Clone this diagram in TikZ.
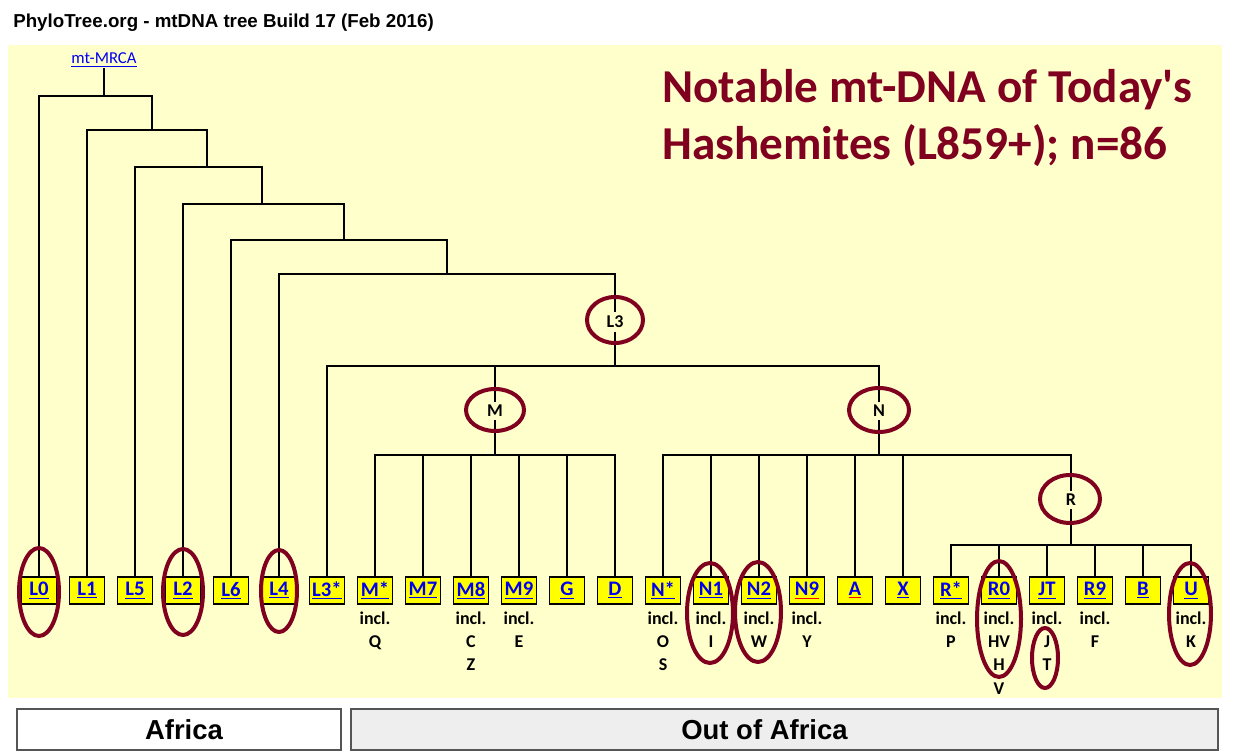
\documentclass[tikz,border=0pt]{standalone}
\usepackage{fontspec}
\setmainfont{Carlito}
\newfontfamily\arialfont{Liberation Sans}
\usetikzlibrary{shapes.geometric}
\definecolor{panel}{HTML}{FFFFCC}
\definecolor{boxyel}{HTML}{FFFF00}
\definecolor{linkblue}{HTML}{0000EE}
\definecolor{hlred}{HTML}{800020}
\definecolor{grayfill}{HTML}{EEEEEE}
\definecolor{bordergray}{HTML}{555555}
\newcommand\leaf[3]{\node[leafbox] (#1) at (#2,590.5) {\underline{#3}};}
\newcommand\leafr[3]{\node[leafbox] (#1) at (#2,590.5) {{\color{red}\underline{\textcolor{linkblue}{#3}}}};}
\newcommand\incl[3]{\node[subtxt] at (#1,#2) {#3};}
\begin{document}
\begin{tikzpicture}[x=0.75pt,y=-0.75pt,
  tree/.style={line width=1.5pt},
  leafbox/.style={draw=black,line width=0.9pt,fill=boxyel,minimum width=26.25pt,minimum height=20.25pt,inner sep=0pt,text=linkblue,font=\bfseries\fontsize{15.5}{17}\selectfont},
  subtxt/.style={anchor=base,inner sep=0pt,font=\bfseries\fontsize{13.5}{15}\selectfont},
  lab/.style={inner sep=2.5pt,font=\bfseries\fontsize{13.5}{15}\selectfont},
  hl/.style 2 args={ellipse,draw=hlred,line width=3pt,minimum width=#1*1.5pt,minimum height=#2*1.5pt,inner sep=0pt},
  region/.style={draw=bordergray,line width=1.4pt,minimum height=30.75pt,inner sep=0pt},
  regtext/.style={inner sep=0pt,anchor=base,font=\arialfont\bfseries\fontsize{20.6}{24}\selectfont}
]
\useasboundingbox (0,0) rectangle (1233,756);
\fill[white] (0,0) rectangle (1233,756);
\fill[panel] (8,45) rectangle (1222,698);

\node[anchor=base west,inner sep=0pt,font=\arialfont\bfseries\fontsize{14.05}{16}\selectfont] (title) at (13,28) {PhyloTree.org - mtDNA tree Build 17 (Feb 2016)};

\node[anchor=base west,inner sep=0pt,text=hlred,font=\bfseries\fontsize{35.4}{42}\selectfont] (big1) at (662,103) {Notable mt-DNA of Today\textquotesingle s};
\node[anchor=base west,inner sep=0pt,text=hlred,font=\bfseries\fontsize{35.4}{42}\selectfont] (big2) at (662,160) {Hashemites (L859+); n=86};

\node[anchor=base,inner sep=1pt,text=linkblue,font=\fontsize{12.5}{14}\selectfont] (mrca) at (104,64) {\underline{mt-MRCA}};

% leaves
\leaf{L0}{39}{L0}
\leaf{L1}{87}{L1}
\leaf{L5}{135}{L5}
\leaf{L2}{183}{L2}
\leaf{L6}{231}{L6}
\leaf{L4}{279}{L4}
\leaf{L3s}{327}{L3*}
\leaf{Ms}{375}{M*}
\leaf{M7}{423}{M7}
\leaf{M8}{471}{M8}
\leaf{M9}{519}{M9}
\leaf{G}{567}{G}
\leaf{D}{615}{D}
\leaf{Ns}{663}{N*}
\leaf{N1}{711}{N1}
\leaf{N2}{759}{N2}
\leafr{N9}{807}{N9}
\leafr{A}{855}{A}
\leaf{X}{903}{X}
\leaf{Rs}{951}{R*}
\leaf{R0}{999}{R0}
\leaf{JT}{1047}{JT}
\leaf{R9}{1095}{R9}
\leaf{B}{1143}{B}
\leaf{U}{1191}{U}

% included sub-haplogroups
\incl{375}{624}{incl.}\incl{375}{647}{Q}
\incl{471}{624}{incl.}\incl{471}{647}{C}\incl{471}{670}{Z}
\incl{519}{624}{incl.}\incl{519}{647}{E}
\incl{663}{624}{incl.}\incl{663}{647}{O}\incl{663}{670}{S}
\incl{711}{624}{incl.}\incl{711}{647}{I}
\incl{759}{624}{incl.}\incl{759}{647}{W}
\incl{807}{624}{incl.}\incl{807}{647}{Y}
\incl{951}{624}{incl.}\incl{951}{647}{P}
\incl{999}{624}{incl.}\incl{999}{647}{HV}\incl{999}{670}{H}\incl{999}{694}{V}
\incl{1047}{624}{incl.}\incl{1047}{647}{J}\incl{1047}{670}{T}
\incl{1095}{624}{incl.}\incl{1095}{647}{F}
\incl{1191}{624}{incl.}\incl{1191}{647}{K}

% internal labels
\node[lab] (L3) at (615,322) {L3};
\node[lab] (M) at (495,411) {M};
\node[lab] (N) at (879,411) {N};
\node[lab] (R) at (1071,500) {R};

% junctions
\coordinate (J0) at (104,96);
\coordinate (J1) at (152,130);
\coordinate (J2) at (207,167);
\coordinate (J3) at (262,204);
\coordinate (J4) at (344,240);
\coordinate (J5) at (447,274);
\coordinate (J6) at (615,366);
\coordinate (JM) at (495,455);
\coordinate (JN) at (879,455);
\coordinate (JR) at (1071,545);

\draw[tree] (mrca) -- (J0);
\draw[tree] (J0) -| (L0);
\draw[tree] (J0) -| (J1);
\draw[tree] (J1) -| (L1);
\draw[tree] (J1) -| (J2);
\draw[tree] (J2) -| (L5);
\draw[tree] (J2) -| (J3);
\draw[tree] (J3) -| (L2);
\draw[tree] (J3) -| (J4);
\draw[tree] (J4) -| (L6);
\draw[tree] (J4) -| (J5);
\draw[tree] (J5) -| (L4);
\draw[tree] (J5) -| (L3);
\draw[tree] (L3) -- (J6);
\draw[tree] (J6) -| (L3s);
\draw[tree] (J6) -| (M);
\draw[tree] (J6) -| (N);
\draw[tree] (M) -- (JM);
\foreach \c in {Ms,M7,M8,M9,G,D} \draw[tree] (JM) -| (\c);
\draw[tree] (N) -- (JN);
\foreach \c in {Ns,N1,N2,N9,A,X} \draw[tree] (JN) -| (\c);
\draw[tree] (JN) -| (R);
\draw[tree] (R) -- (JR);
\foreach \c in {Rs,R0,JT,R9,B,U} \draw[tree] (JR) -| (\c);

% highlight ellipses
\node[hl={28}{23}] (hL3) at (615,320) {};
\node[hl={29}{21}] (hM) at (495,410) {};
\node[hl={30}{22}] (hN) at (879,410) {};
\node[hl={30}{24}] (hR) at (1070,499) {};
\node[hl={20}{44}] (hL0) at (39,592) {};
\node[hl={20}{43}] (hL2) at (183,592) {};
\node[hl={18}{41}] (hL4) at (279,591) {};
\node[hl={23}{50}] (hN1) at (710,613) {};
\node[hl={23}{50}] (hN2) at (758,612) {};
\node[hl={22}{58}] (hR0) at (999,619) {};
\node[hl={13}{30}] (hJT) at (1045,658) {};
\node[hl={21}{51}] (hU) at (1190,614) {};

% regions
\node[region,fill=white,minimum width=243pt] (africa) at (179,729.5) {};
\node[region,fill=grayfill,minimum width=650.25pt] (ooa) at (784.5,729.5) {};
\node[regtext] (africaT) at (184,739) {Africa};
\node[regtext] (ooaT) at (764.5,739) {Out of Africa};
\end{tikzpicture}
\end{document}
